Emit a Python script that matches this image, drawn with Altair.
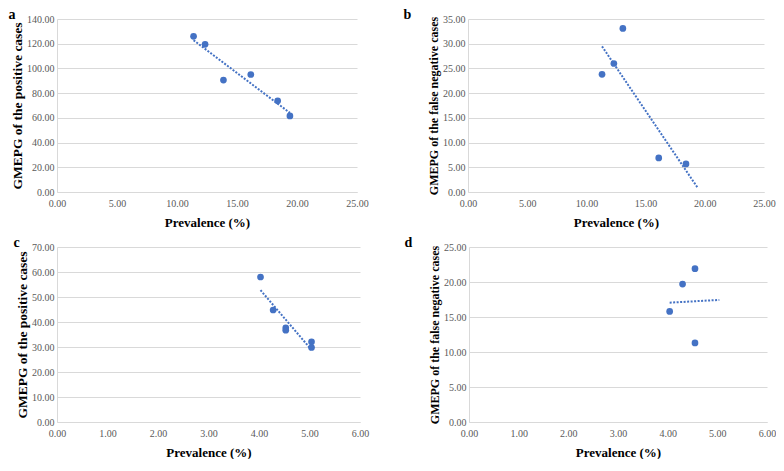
import altair as alt
import pandas as pd

# Panel a: positive cases vs prevalence
a_prev = [11.38, 12.34, 13.87, 16.15, 18.39, 19.41]
a_gmepg = [126.0, 119.5, 90.6, 95.1, 73.8, 61.6]

# Panel b: false negative cases vs prevalence
b_prev = [11.32, 12.32, 13.08, 16.11, 18.41]
b_gmepg = [23.8, 26.0, 33.1, 6.9, 5.67]
b_trend_extent = [11.32, 19.41]

# Panel c: positive cases vs prevalence
c_prev = [4.03, 4.28, 4.53, 4.53, 5.04, 5.04]
c_gmepg = [58.0, 44.8, 37.7, 36.7, 32.1, 29.8]

# Panel d: false negative cases vs prevalence
d_prev = [4.04, 4.30, 4.55, 4.55]
d_gmepg = [15.8, 19.7, 21.9, 11.3]
d_trend_extent = [4.04, 5.04]

BLUE = "#4472C4"
SERIF = "Liberation Serif"


def panel(xs, ys, xmax, xstep, ymax, ystep, ytitle, ytitle_size, letter, w, h,
          extent=None, letter_dx=-2):
    df = pd.DataFrame({"x": xs, "y": ys})
    xticks = [i * xstep for i in range(int(round(xmax / xstep)) + 1)]
    yticks = [i * ystep for i in range(int(round(ymax / ystep)) + 1)]
    x_enc = alt.X("x:Q", title="Prevalence (%)",
                  scale=alt.Scale(domain=[0, xmax], nice=False, zero=True),
                  axis=alt.Axis(values=xticks, format=".2f", grid=False, ticks=False,
                                labelFlush=False, labelOverlap=False,
                                domainColor="#d9d9d9", labelPadding=6, titlePadding=8,
                                labelFont=SERIF, labelFontSize=10, labelColor="#595959",
                                titleFont=SERIF, titleFontSize=13, titleFontWeight="bold",
                                titleColor="#000000"))
    y_enc = alt.Y("y:Q", title=ytitle,
                  scale=alt.Scale(domain=[0, ymax], nice=False),
                  axis=alt.Axis(values=yticks, format=".2f", grid=True, gridColor="#d9d9d9",
                                ticks=False, domainColor="#d9d9d9", labelPadding=3,
                                labelFlush=False, labelOverlap=False,
                                titlePadding=2,
                                labelFont=SERIF, labelFontSize=10, labelColor="#595959",
                                titleFont=SERIF, titleFontSize=ytitle_size,
                                titleFontWeight="bold", titleColor="#000000"))
    base = alt.Chart(df)
    pts = base.mark_circle(size=45, color=BLUE, opacity=1).encode(x=x_enc, y=y_enc)
    reg_kwargs = {}
    if extent is not None:
        reg_kwargs["extent"] = extent
    trend = base.transform_regression("x", "y", **reg_kwargs).mark_line(
        color=BLUE, strokeWidth=2, strokeDash=[2, 1.5]
    ).encode(x=x_enc, y=y_enc)
    return alt.layer(trend, pts).properties(
        width=w, height=h,
        title=alt.TitleParams(letter, anchor="start", frame="bounds", fontSize=14,
                              font=SERIF, fontWeight="bold", offset=-8, dx=letter_dx),
    )


pa = panel(a_prev, a_gmepg, 25, 5, 140, 20, "GMEPG of the positive cases", 13.5, "a", 300, 173)
pb = panel(b_prev, b_gmepg, 25, 5, 35, 5, "GMEPG of the false negative cases", 12, "b", 296, 173,
           extent=b_trend_extent, letter_dx=-24)
pc = panel(c_prev, c_gmepg, 6, 1, 70, 10, "GMEPG of the positive cases", 13.5, "c", 303, 175)
pd_ = panel(d_prev, d_gmepg, 6, 1, 25, 5, "GMEPG of the false negative cases", 12, "d", 298, 175,
            extent=d_trend_extent, letter_dx=-24)

chart = alt.vconcat(
    alt.hconcat(pa, pb, spacing=34),
    alt.hconcat(pc, pd_, spacing=35),
    spacing=7,
).properties(
    padding={"left": 0, "top": 0, "right": 0, "bottom": 0}
).configure_view(stroke=None)

chart.save("out.html", embed_options={"renderer": "svg", "actions": False})
